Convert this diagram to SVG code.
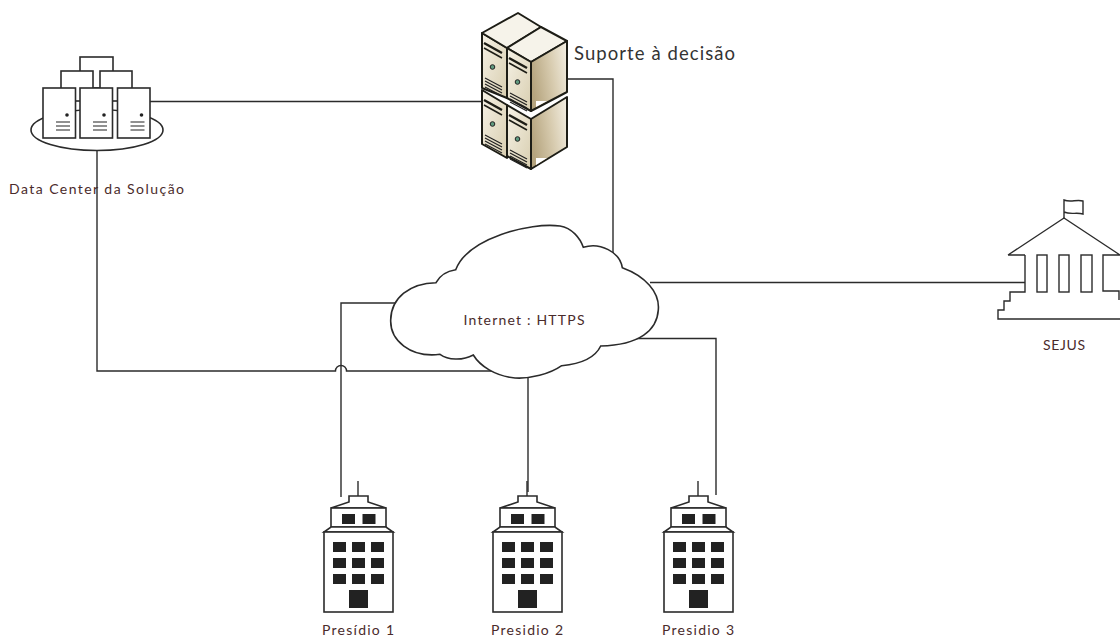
<svg xmlns="http://www.w3.org/2000/svg" width="1120" height="639" viewBox="0 0 1120 639">
<style>
.l{fill:none;stroke:#2b2b2b;stroke-width:1.4}
.o{fill:#fff;stroke:#2b2b2b;stroke-width:1.6;stroke-linejoin:miter}
.k{fill:#222;stroke:none}
.t{font-family:Lato,"Liberation Sans",sans-serif;font-size:14px;fill:#4a2b2b;text-anchor:middle}
.s{fill:none;stroke:#222;stroke-width:1.2}
.h{stroke:#1d1d16;stroke-width:2;stroke-linejoin:round}
</style>
<defs>
<linearGradient id="side" x1="0" y1="0.5" x2="1" y2="0.2"><stop offset="0" stop-color="#b5a47e"/><stop offset="0.55" stop-color="#d8ccb0"/><stop offset="1" stop-color="#f1ecdf"/></linearGradient>
<linearGradient id="front" x1="0" y1="0" x2="1" y2="1"><stop offset="0" stop-color="#f6f2e6"/><stop offset="1" stop-color="#d8ceb0"/></linearGradient>
<g id="srv">
<rect class="o" x="0" y="0" width="32.500" height="50"/>
<circle class="k" cx="24" cy="27" r="1.800"/>
<path class="s" d="M13 34H27M13 38H27M13 42H27"/>
</g>
<g id="face">
<path d="M2 10 20 20" fill="none" stroke="#1d1d16" stroke-width="2.400"/>
<path d="M2 15 20 25" fill="none" stroke="#1d1d16" stroke-width="1.600"/>
<circle cx="10.500" cy="34" r="2.300" fill="#5f9a7f" stroke="#222" stroke-width="1"/>
<path class="s" d="M3 45 20 54M3 48 20 57M3 51 20 60M3 54 20 63" stroke-width="1"/>
</g>
<g id="bld">
<path class="l" d="M358 481V496"/>
<path class="o" d="M349 502V496H368V502L386 508H331Z"/>
<rect class="o" x="331" y="508" width="55" height="19"/>
<path class="o" d="M331 527H386L393 532H324Z"/>
<rect class="o" x="324" y="532" width="69" height="80"/>
<rect class="k" x="342" y="514" width="13" height="10"/><rect class="k" x="362.500" y="514" width="13" height="10"/>
<g class="k">
<rect x="333" y="542" width="13" height="10"/><rect x="352" y="542" width="13" height="10"/><rect x="371" y="542" width="13" height="10"/>
<rect x="333" y="558" width="13" height="10"/><rect x="352" y="558" width="13" height="10"/><rect x="371" y="558" width="13" height="10"/>
<rect x="333" y="574" width="13" height="10"/><rect x="352" y="574" width="13" height="10"/><rect x="371" y="574" width="13" height="10"/>
<rect x="349" y="590" width="19" height="18"/>
</g>
</g>
</defs>

<g id="connectors">
<path class="l" d="M150 101.500H482"/>
<path class="l" d="M97 150V371H335.500A5.500 5.500 0 0 1 346.500 371H495"/>
<path class="l" d="M568 79H613V255"/>
<path class="l" d="M650 282.500H1025"/>
<path class="l" d="M395 303H341V497"/>
<path class="l" d="M528 375V492"/>
<path class="l" d="M635 338.500H716V495"/>
</g>

<g id="datacenter">
<ellipse class="o" cx="97" cy="130" rx="66" ry="20.500"/>
<rect class="o" x="80" y="57" width="33" height="31"/>
<rect class="o" x="61" y="71" width="32" height="30"/>
<rect class="o" x="100" y="71" width="32" height="30"/>
<use href="#srv" x="43" y="88"/>
<use href="#srv" x="80" y="88"/>
<use href="#srv" x="117.500" y="88"/>
</g>
<text class="t" x="96.500" y="194" textLength="175">Data Center da Solução</text>

<g id="suporte">
<path class="h" fill="url(#front)" d="M482 90 507 105 507 158 482 144Z"/>
<use href="#face" x="482" y="90"/>
<path class="h" fill="url(#front)" d="M507 105 531 119 531 169 507 156Z"/>
<path class="h" fill="url(#side)" d="M531 119 567 97 567 147 531 169Z"/>
<path fill="#fff" d="M536 158H547L536 165Z"/>
<use href="#face" x="507" y="105"/>
<path class="h" fill="url(#front)" d="M482 33 507 48 507 98 482 88Z"/>
<use href="#face" x="482" y="33"/>
<path class="h" fill="#f6f3ea" d="M482 33 518 13 541 27 507 48Z"/>
<path class="h" fill="#f6f3ea" d="M507 48 541 27 567 41 531 62Z"/>
<path class="h" fill="url(#front)" d="M507 48 531 62 531 111 507 98Z"/>
<path class="h" fill="url(#side)" d="M531 62 567 41 567 92 531 111Z"/>
<path fill="#fff" d="M536 101H547L536 107Z"/>
<use href="#face" x="507" y="48"/>
</g>
<text x="574" y="60" font-family="Lato,'Liberation Sans',sans-serif" font-size="18.500" fill="#333" textLength="161">Suporte à decisão</text>

<g id="internet">
<path class="o" d="M455.700 269.700C468 238 530 222 560 226C572 228 580 238 583.300 247.300C600 242 620 252 622.300 267.700C645 276 660 292 658.300 310C657 330 640 345 600.700 346C595 358 580 364 561.700 365.700C550 374 530 379 515 378C495 376 480 366 473.300 355C462 361 448 360 440 354.300C410 358 390 340 390.700 320C391 298 410 283 436 282.700C440 275 447 271 455.700 269.700Z"/>
<text class="t" x="524" y="325" textLength="121">Internet : HTTPS</text>
</g>

<g id="sejus">
<path class="l" d="M1064 218V200C1071 203 1076 199 1083 201V214C1076 212 1071 215 1064 212"/>
<path class="l" d="M1008 255L1064 218L1120 255H1103V291H1119V300M1025 255H1008M1025 255V292H1010V301H1004V310H998V319H1120"/>
<rect class="l" x="1037" y="255" width="10" height="37"/>
<rect class="l" x="1059" y="255" width="10" height="37"/>
<rect class="l" x="1081" y="255" width="11" height="37"/>
</g>
<text class="t" x="1064" y="350" textLength="42">SEJUS</text>

<g id="presidio1"><use href="#bld"/></g>
<g id="presidio2"><use href="#bld" x="169"/></g>
<g id="presidio3"><use href="#bld" x="340"/></g>
<text class="t" x="358" y="635" textLength="72">Presídio 1</text>
<text class="t" x="527" y="635" textLength="72">Presidio 2</text>
<text class="t" x="698" y="635" textLength="72">Presidio 3</text>
</svg>
